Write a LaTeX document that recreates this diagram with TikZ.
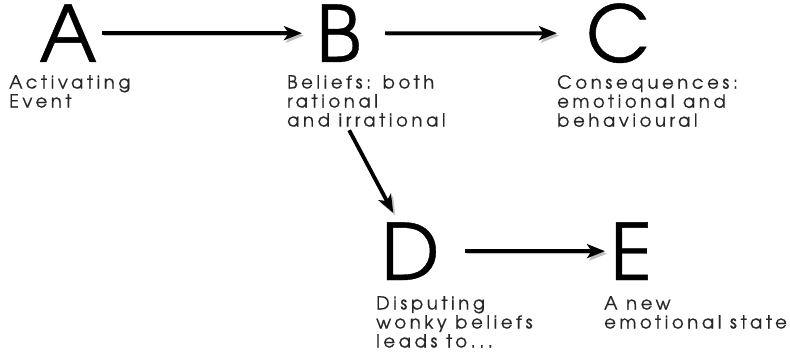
\documentclass[tikz,border=0pt]{standalone}
\usepackage{fontspec}
\setmainfont{TeX Gyre Adventor}
\newfontfamily\lblfont{TeX Gyre Adventor}[LetterSpace=20,FakeBold=0.6]
\newfontfamily\bigfont{TeX Gyre Adventor}[FakeBold=0.5]
\usetikzlibrary{arrows.meta}
\begin{document}
\begin{tikzpicture}[x=1pt,y=-1pt,
  big/.style={font=\bigfont\fontsize{78}{84}\selectfont, inner sep=0pt, anchor=base west},
  lbl/.style={font=\lblfont\fontsize{18}{19}\selectfont, inner sep=0pt, anchor=north west, align=left, text=black!85},
  arr/.style={line width=3.8pt, -{Stealth[length=18pt,width=14pt,inset=4.5pt]},
    preaction={draw=black!25, transform canvas={shift={(2pt,-2.5pt)}}}}]
\useasboundingbox[fill=white] (0,0) rectangle (790,353);
% big letters
\node[big] (A) at (39,62) {A};
\node[big] (B) at (316,62) {B};
\node[big] (C) at (586,62) {C};
\node[big] (D) at (381,280) {D};
\node[big] (E) at (610,280) {E};
% labels
\node[lbl] (la) at (9,75) {Activating\\Event};
\node[lbl] (lb) at (287,75) {Beliefs: both\\rational\\and irrational};
\node[lbl] (lc) at (557,75) {Consequences:\\emotional and\\behavioural};
\node[lbl] (ld) at (376,296) {Disputing\\wonky beliefs\\leads to...};
\node[lbl] (le) at (604,296) {A new\\emotional state};
% arrows
\draw[arr, shorten <=5pt, shorten >=14pt] (A) -- (B);
\draw[arr, shorten <=24pt, shorten >=29pt] (B) -- (C);
\draw[arr] ([shift={(10.6,68)}]B.south) -- ([shift={(-17,-9.3)}]D.north);
\draw[arr, shorten <=26pt, shorten >=5pt] (D) -- (E);
\end{tikzpicture}
\end{document}
